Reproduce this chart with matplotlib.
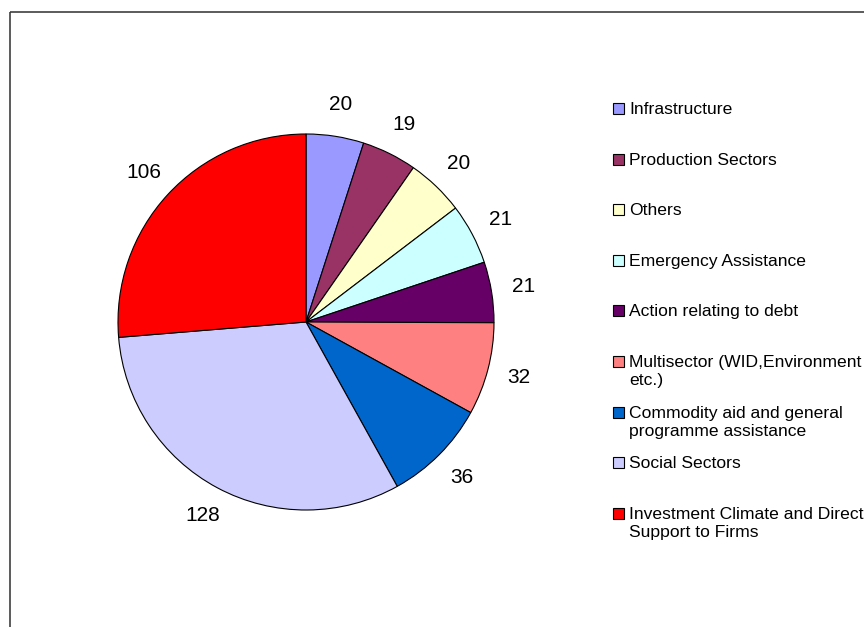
import matplotlib
matplotlib.use("Agg")
import matplotlib.pyplot as plt
from matplotlib.patches import Rectangle

categories = [
    "Infrastructure",
    "Production Sectors",
    "Others",
    "Emergency Assistance",
    "Action relating to debt",
    "Multisector (WID,Environment\netc.)",
    "Commodity aid and general\nprogramme assistance",
    "Social Sectors",
    "Investment Climate and Direct\nSupport to Firms",
]
values = [20, 19, 20, 21, 21, 32, 36, 128, 106]
colors = ["#9999FF", "#993366", "#FFFFCC", "#CCFFFF", "#660066",
          "#FF8080", "#0066CC", "#CCCCFF", "#FF0000"]

plt.rcParams["font.family"] = ["Liberation Sans", "DejaVu Sans"]

W, H = 864, 627
fig = plt.figure(figsize=(W / 100, H / 100), dpi=100, facecolor="white")

# overlay in pixel coordinates for the outer frame and the legend
ov = fig.add_axes([0, 0, 1, 1])
ov.set_xlim(0, W)
ov.set_ylim(H, 0)
ov.axis("off")
ov.add_patch(Rectangle((10, 12), W, H, fill=False, edgecolor="#404040", lw=1.2))

cx, cy, r = 306, 322, 188
ax = fig.add_axes([(cx - r) / W, (H - cy - r) / H, 2 * r / W, 2 * r / H])
wedges, texts = ax.pie(
    values,
    colors=colors,
    labels=[str(v) for v in values],
    startangle=90,
    counterclock=False,
    labeldistance=1.17,
    wedgeprops=dict(edgecolor="black", linewidth=0.8),
    textprops=dict(fontsize=15),
)
for t in texts:
    t.set_ha("center")
    t.set_va("center")
ax.set_xlim(-1, 1)
ax.set_ylim(-1, 1)
ax.axis("off")

# legend: fixed row pitch, marker aligned with the first line of each entry
for i, (name, w) in enumerate(zip(categories, wedges)):
    y = 108.5 + i * 50.6
    ov.add_patch(Rectangle((613, y - 5.5), 11, 11, facecolor=w.get_facecolor(),
                           edgecolor="black", lw=0.8))
    for k, line in enumerate(name.split("\n")):
        ov.text(629, y + 5.5 + k * 18.5, line, fontsize=12.6,
                ha="left", va="baseline")

fig.savefig("out.png", dpi=100)
